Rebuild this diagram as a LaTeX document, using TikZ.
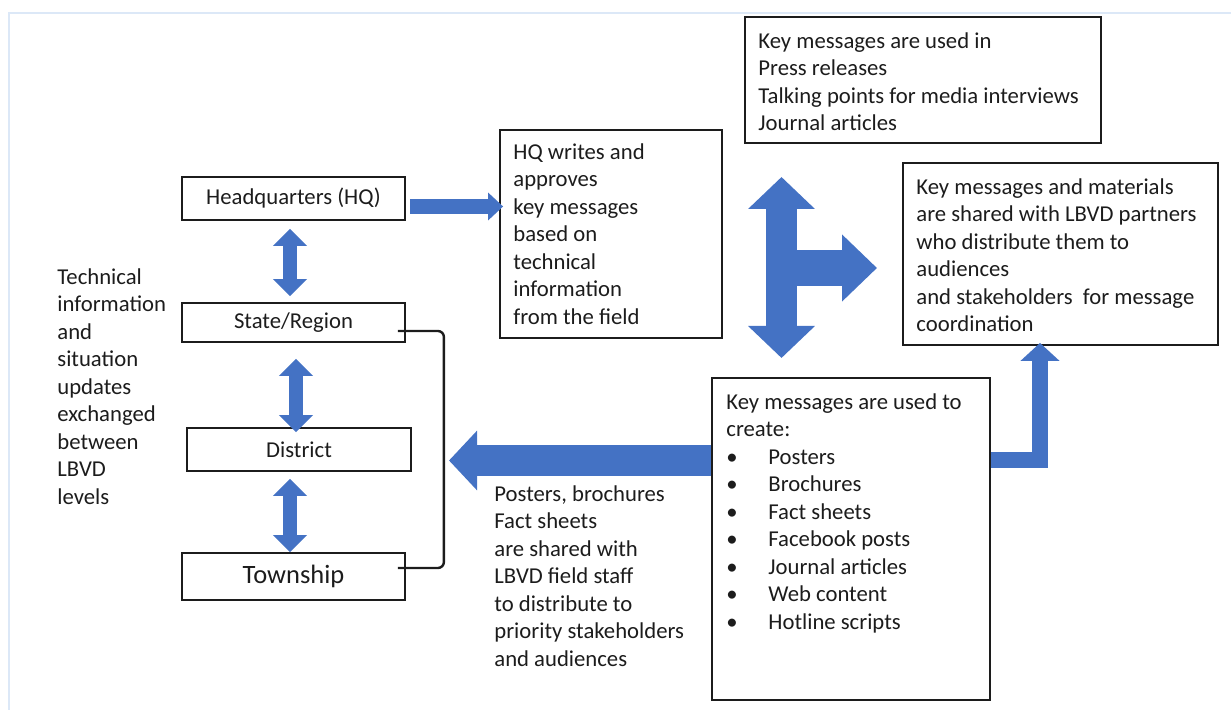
\documentclass[tikz,border=0pt]{standalone}
\usepackage{fontspec}
\setmainfont{Carlito}
\usetikzlibrary{arrows.meta}

\begin{document}
\begin{tikzpicture}[x=0.5pt, y=-0.5pt,
  txt/.style={font=\fontsize{11.35}{13.75}\selectfont, text=tinta, align=left, inner sep=0pt, anchor=north west},
  nivel/.style 2 args={draw=tinta, line width=0.9pt, minimum width=#1, minimum height=#2,
    inner sep=0pt, font=\fontsize{11.35}{13.75}\selectfont, text=tinta},
  caja/.style 2 args={draw=tinta, line width=0.9pt, minimum width=#1, minimum height=#2, inner sep=0pt},
  bloque/.style={draw=azulfl, line join=miter, line cap=butt}]

\definecolor{azulfl}{RGB}{68,114,196}
\definecolor{marcoc}{RGB}{220,232,247}
\definecolor{tinta}{RGB}{28,28,28}

\useasboundingbox (0,0) rectangle (1231,710);

% Marco claro
\draw[marcoc, line width=1pt] (9,710) -- (9,13) -- (1231,13);

% === NIVELES ===
\node[nivel={111.5pt}{21.5pt}] (hq)       at (293.5,198.5) {Headquarters (HQ)};
\node[nivel={111.5pt}{19.5pt}] (state)    at (293.5,322.5) {State/Region};
\node[nivel={112pt}{21.5pt}]   (district) at (299,449.5)   {District};
\node[nivel={111.5pt}{23.5pt}, font=\fontsize{13.25}{16}\selectfont] (township) at (293.5,576.5) {Township};

\node[txt] (levels) at (57,268)
  {Technical\\information\\and\\situation\\updates\\exchanged\\between\\LBVD\\levels};

% Corchete entre niveles
\draw[tinta, line width=1.2pt, rounded corners=3pt]
  ([shift={(-8,8.5)}]state.east) -- ++(46,0) |- ([shift={(-8,-8.5)}]township.east);

% === CAJAS DE TEXTO ===
\node[caja={111pt}{104pt}]   (hqbox)       at (611,234) {};
\node[caja={178pt}{63pt}]    (usesbox)     at (923,80) {};
\node[caja={157.5pt}{91pt}]  (partnersbox) at (1060.5,254) {};
\node[caja={139pt}{161pt}]   (createbox)   at (851,539) {};

\node[txt] (hqtxt) at (513,143)
  {HQ writes and\\approves\\key messages\\based on\\technical\\information\\from the field};
\node[txt] (usestxt) at (758,32)
  {Key messages are used in\\Press releases\\Talking points for media interviews\\Journal articles};
\node[txt] (partnerstxt) at (916,178)
  {Key messages and materials\\are shared with LBVD partners\\who distribute them to\\audiences\\and stakeholders\ \ for message\\coordination};
\node[txt] (createtxt) at (726,393)
  {Key messages are used to\\create:\\
   \makebox[21pt][l]{\textbullet}Posters\\
   \makebox[21pt][l]{\textbullet}Brochures\\
   \makebox[21pt][l]{\textbullet}Fact sheets\\
   \makebox[21pt][l]{\textbullet}Facebook posts\\
   \makebox[21pt][l]{\textbullet}Journal articles\\
   \makebox[21pt][l]{\textbullet}Web content\\
   \makebox[21pt][l]{\textbullet}Hotline scripts};

\node[txt] (shared) at (494,485)
  {Posters, brochures\\Fact sheets\\are shared with\\LBVD field staff\\to distribute to\\priority stakeholders\\and audiences};

% === FLECHAS DE BLOQUE ===
\draw[bloque, line width=7.5pt, -{Triangle[width=13.5pt, length=7.5pt]}]
  ([shift={(4,8)}]hq.east) -- ([shift={(4,8)}]hq.east -| hqbox.west);

\draw[bloque, line width=7.25pt, {Triangle[width=16.5pt, length=8.5pt]}-{Triangle[width=16.5pt, length=8.5pt]}]
  ([shift={(-3.5,8)}]hq.south) -- ([shift={(-3.5,-6)}]state.north);
\draw[bloque, line width=7.25pt, {Triangle[width=16.5pt, length=8.5pt]}-{Triangle[width=16.5pt, length=8.5pt]}]
  ([shift={(2.5,16)}]state.south) -- ([shift={(-3,5)}]district.north);
\draw[bloque, line width=7.25pt, {Triangle[width=16.5pt, length=8.5pt]}-{Triangle[width=16.5pt, length=8.5pt]}]
  ([shift={(-9,7)}]district.south) -- ([shift={(-3.5,0)}]township.north);

% Flecha en T
\coordinate (tArr) at (781.5,177);
\coordinate (tAbj) at (781.5,358);
\coordinate (tMed) at (781.5,268);
\coordinate (tDer) at (877,268);
\draw[bloque, line width=15.5pt, {Triangle[width=32.5pt, length=16pt]}-{Triangle[width=32.5pt, length=16pt]}]
  (tArr) -- (tAbj);
\draw[bloque, line width=18pt, -{Triangle[width=32.5pt, length=17.5pt]}]
  (tMed) -- (tDer);

% Flecha hacia los niveles
\coordinate (cIzq) at (449,460.5);
\draw[bloque, line width=15.5pt, -{Triangle[width=29pt, length=14pt]}]
  ([shift={(0,-78.5)}]createbox.west) -- (cIzq);

% Flecha en codo hacia socios
\draw[bloque, line width=8pt, -{Triangle[width=19pt, length=9pt]}]
  ([shift={(0,-79)}]createbox.east) -| ([shift={(-20.5,-3)}]partnersbox.south);

\end{tikzpicture}
\end{document}
